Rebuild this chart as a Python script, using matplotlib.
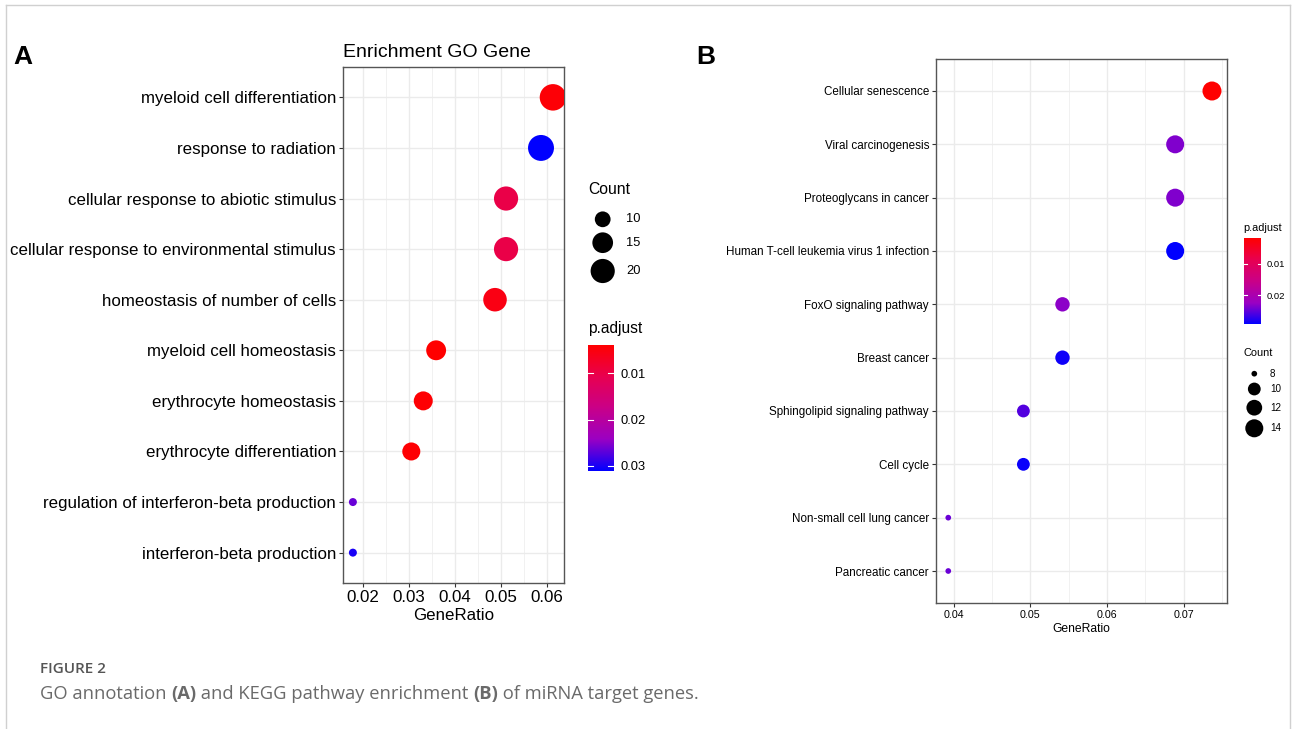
import matplotlib.pyplot as plt
import numpy as np
from matplotlib.colors import LinearSegmentedColormap, Normalize
from matplotlib.cm import ScalarMappable
from matplotlib.lines import Line2D

plt.rcParams['font.family'] = ['Liberation Sans', 'DejaVu Sans']

# GO enrichment (top row first)
go_terms = ["myeloid cell differentiation", "response to radiation",
            "cellular response to abiotic stimulus",
            "cellular response to environmental stimulus",
            "homeostasis of number of cells", "myeloid cell homeostasis",
            "erythrocyte homeostasis", "erythrocyte differentiation",
            "regulation of interferon-beta production",
            "interferon-beta production"]
go_ratio = [0.0613, 0.0587, 0.0511, 0.0511, 0.0487, 0.0359, 0.0331, 0.0305, 0.0178, 0.0178]
go_count = [24, 23, 20, 20, 19, 14, 13, 12, 7, 7]
go_padj = [0.0045, 0.0311, 0.0100, 0.0100, 0.0055, 0.0039, 0.0042, 0.0042, 0.0265, 0.0300]
go_padj_lim = (0.0039, 0.0311)
go_count_breaks = [10, 15, 20]
go_padj_ticks = [0.01, 0.02, 0.03]

# KEGG enrichment (top row first)
kegg_terms = ["Cellular senescence", "Viral carcinogenesis", "Proteoglycans in cancer",
              "Human T-cell leukemia virus 1 infection", "FoxO signaling pathway",
              "Breast cancer", "Sphingolipid signaling pathway", "Cell cycle",
              "Non-small cell lung cancer", "Pancreatic cancer"]
kegg_ratio = [0.0737, 0.0689, 0.0689, 0.0689, 0.0542, 0.0542, 0.0491, 0.0491, 0.0393, 0.0393]
kegg_count = [15, 14, 14, 14, 11, 11, 10, 10, 8, 8]
kegg_padj = [0.0019, 0.0235, 0.0235, 0.0292, 0.0230, 0.0285, 0.0255, 0.0287, 0.0245, 0.0245]
kegg_padj_lim = (0.0019, 0.0292)
kegg_count_breaks = [8, 10, 12, 14]
kegg_padj_ticks = [0.01, 0.02]

W, H = 1292, 729
fig = plt.figure(figsize=(W / 100, H / 100), dpi=100)

# red -> blue through Lab-like magenta midpoints
cmap = LinearSegmentedColormap.from_list(
    "padj", ["#FF0000", "#E80050", "#C90088", "#9A00C3", "#0000FF"])


def px_rect(x0, y0, x1, y1):
    return [x0 / W, 1 - y1 / H, (x1 - x0) / W, (y1 - y0) / H]


def dot_size(c, cmin, cmax, dmin, dmax):
    c = np.asarray(c, dtype=float)
    d = dmin + (dmax - dmin) * np.sqrt((c - cmin) / (cmax - cmin))
    return (d * 0.72) ** 2


def dotplot(ax, terms, ratio, count, padj, lim, smin, smax, fs, xlim, xticks):
    n = len(terms)
    y = np.arange(n)[::-1]
    norm = Normalize(*lim)
    ax.scatter(ratio, y, s=dot_size(count, min(count), max(count), smin, smax),
               c=cmap(norm(padj)), linewidths=0, zorder=3)
    ax.set_ylim(-0.6, n - 0.4)
    ax.set_xlim(*xlim)
    ax.set_yticks(y)
    ax.set_yticklabels(terms, fontsize=fs)
    ax.set_xticks(xticks)
    ax.set_xticks(np.array(xticks[:-1]) + (xticks[1] - xticks[0]) / 2, minor=True)
    ax.tick_params(which='major', length=3, width=0.8, color='#333333', pad=2)
    ax.tick_params(which='minor', length=0)
    ax.grid(which='major', color='#EBEBEB', lw=1.0, zorder=0)
    ax.grid(which='minor', axis='x', color='#EBEBEB', lw=0.5, zorder=0)
    for sp in ax.spines.values():
        sp.set_color('#555555')
        sp.set_linewidth(1.0)
    return norm


# panel A
axA = fig.add_axes(px_rect(343, 67, 564, 583))
normA = dotplot(axA, go_terms, go_ratio, go_count, go_padj, go_padj_lim,
                8, 26.5, 12.2, (0.01565, 0.0637), [0.02, 0.03, 0.04, 0.05, 0.06])
axA.set_xticklabels(["0.02", "0.03", "0.04", "0.05", "0.06"], fontsize=12.2)
axA.set_xlabel("GeneRatio", fontsize=12.2, labelpad=2)
axA.set_title("Enrichment GO Gene", fontsize=14, loc='left', pad=7)

# panel B
axB = fig.add_axes(px_rect(936, 59, 1227, 603))
normB = dotplot(axB, kegg_terms, kegg_ratio, kegg_count, kegg_padj, kegg_padj_lim,
                5.7, 19, 8.4, (0.0377, 0.07566), [0.04, 0.05, 0.06, 0.07])
axB.set_xticks([0.045, 0.055, 0.065, 0.075], minor=True)
axB.set_xticklabels(["0.04", "0.05", "0.06", "0.07"], fontsize=7.7)
axB.set_xlabel("GeneRatio", fontsize=8.7, labelpad=2)

# overlay in pixel coordinates for legends, labels and the page frame
ov = fig.add_axes([0, 0, 1, 1], zorder=5)
ov.set_xlim(0, W)
ov.set_ylim(H, 0)
ov.axis('off')
ov.patch.set_alpha(0)

frame = '#D0D0D0'
ov.add_line(Line2D([6, 6], [5, H], color=frame, lw=1))
ov.add_line(Line2D([6, 1290], [5, 5], color=frame, lw=1))
ov.add_line(Line2D([1290, 1290], [5, H], color=frame, lw=1))

ov.text(13, 57, "A", fontsize=19, fontweight='bold', va='center', ha='left')
ov.text(696, 57, "B", fontsize=19, fontweight='bold', va='center', ha='left')

# size legend A
ov.text(588, 189, "Count", fontsize=11.3, va='center', ha='left')
ov.scatter([602.7] * 3, [219.3, 242.7, 271],
           s=dot_size(go_count_breaks, min(go_count), max(go_count), 8, 26.5),
           c='black', linewidths=0)
for yy, lab in zip([219.3, 242.7, 271], go_count_breaks):
    ov.text(626, yy, str(lab), fontsize=9.3, va='center', ha='left')

# colour legend A
ov.text(588, 328, "p.adjust", fontsize=11.2, va='center', ha='left')


def colorbar(rect, norm, ticks, fs, pad):
    cax = fig.add_axes(px_rect(*rect))
    cb = fig.colorbar(ScalarMappable(norm=norm, cmap=cmap), cax=cax)
    cb.outline.set_visible(False)
    cax.invert_yaxis()
    cb.set_ticks(ticks)
    cb.set_ticklabels([f"{t:.2f}" for t in ticks])
    cax.tick_params(length=0, labelsize=fs, pad=pad)
    for t in ticks:
        cax.plot([0, 0.2], [t, t], color='white', lw=0.8, transform=cax.get_yaxis_transform())
        cax.plot([0.8, 1], [t, t], color='white', lw=0.8, transform=cax.get_yaxis_transform())


colorbar((588, 345, 613.5, 471), normA, go_padj_ticks, 9.3, 5)

# colour legend B
ov.text(1243, 228, "p.adjust", fontsize=7.9, va='center', ha='left')
colorbar((1243.5, 238, 1261, 324.5), normB, kegg_padj_ticks, 6.8, 4)

# size legend B
ov.text(1243, 353, "Count", fontsize=7.9, va='center', ha='left')
yB = [373.7, 389, 407.7, 428.3]
ov.scatter([1254.3] * 4, yB,
           s=dot_size(kegg_count_breaks, min(kegg_count), max(kegg_count), 5.7, 19),
           c='black', linewidths=0)
for yy, lab in zip(yB, kegg_count_breaks):
    ov.text(1270, yy, str(lab), fontsize=7.1, va='center', ha='left')

# caption
ov.text(40, 669, "FIGURE 2", fontsize=11, fontweight='semibold', color='#555555',
        family=['Open Sans', 'DejaVu Sans'], va='center', ha='left')
parts = [("GO annotation ", 'normal'), ("(A)", 'bold'),
         (" and KEGG pathway enrichment ", 'normal'), ("(B)", 'bold'),
         (" of miRNA target genes.", 'normal')]
renderer = fig.canvas.get_renderer()
x = 40
for txt, wt in parts:
    t = ov.text(x, 694, txt, fontsize=13.2, fontweight=wt, color='#6A6A6A',
                family=['Open Sans', 'DejaVu Sans'], va='center', ha='left')
    bb = t.get_window_extent(renderer=renderer)
    x += bb.width

fig.savefig("out.png", dpi=100)
